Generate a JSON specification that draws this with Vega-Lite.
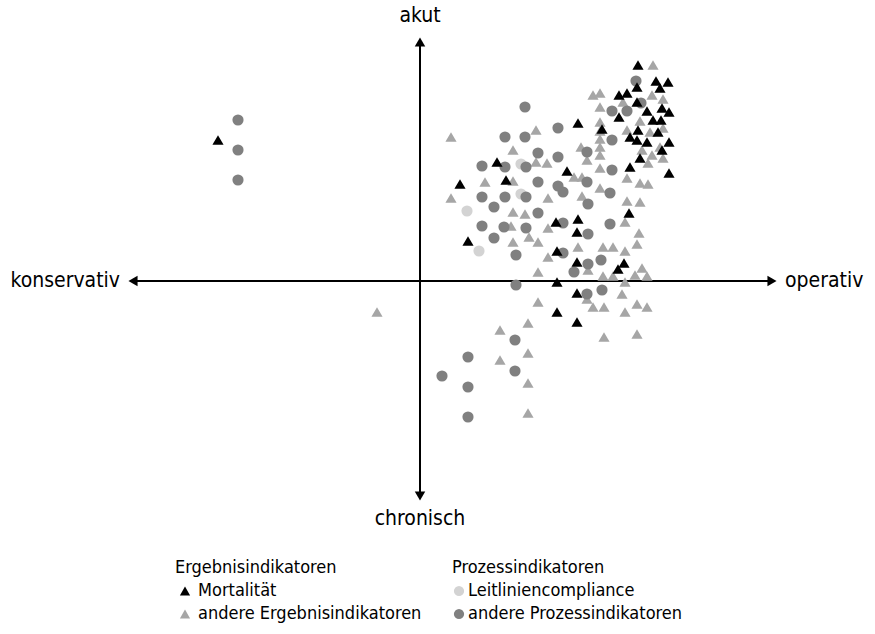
{
  "$schema": "https://vega.github.io/schema/vega-lite/v6.json",
  "width": 875,
  "height": 634,
  "autosize": "none",
  "padding": 0,
  "background": "white",
  "config": {"view": {"stroke": null}, "font": "DejaVu Sans Condensed"},
  "datasets": {
    "pts": [
      {"x":233,"y":216,"k":"E"},{"x":173,"y":186,"k":"E"},{"x":180,"y":188,"k":"E"},{"x":232,"y":186,"k":"E"},{"x":203,"y":179,"k":"E"},{"x":243,"y":182,"k":"E"},{"x":180,"y":174,"k":"E"},{"x":180,"y":159,"k":"E"},{"x":220,"y":160,"k":"E"},{"x":180,"y":150,"k":"E"},{"x":207,"y":151,"k":"E"},{"x":243,"y":153,"k":"E"},{"x":230,"y":149,"k":"E"},{"x":180,"y":142,"k":"E"},{"x":180,"y":134,"k":"E"},{"x":161,"y":134,"k":"E"},{"x":222,"y":131,"k":"E"},{"x":240,"y":134,"k":"E"},{"x":232,"y":126,"k":"E"},{"x":243,"y":123,"k":"E"},{"x":228,"y":118,"k":"E"},{"x":180,"y":126,"k":"E"},{"x":167,"y":121,"k":"E"},{"x":180,"y":113,"k":"E"},{"x":207,"y":103,"k":"E"},{"x":220,"y":98,"k":"E"},{"x":228,"y":97,"k":"E"},{"x":154,"y":104,"k":"E"},{"x":162,"y":104,"k":"E"},{"x":162,"y":85,"k":"E"},{"x":180,"y":93,"k":"E"},{"x":207,"y":80,"k":"E"},{"x":220,"y":79,"k":"E"},{"x":116,"y":151,"k":"E"},{"x":31,"y":144,"k":"E"},{"x":93,"y":131,"k":"E"},{"x":116,"y":119,"k":"E"},{"x":127,"y":118,"k":"E"},{"x":65,"y":99,"k":"E"},{"x":93,"y":100,"k":"E"},{"x":31,"y":83,"k":"E"},{"x":128,"y":83,"k":"E"},{"x":93,"y":69,"k":"E"},{"x":105,"y":67,"k":"E"},{"x":91,"y":55,"k":"E"},{"x":128,"y":53,"k":"E"},{"x":93,"y":39,"k":"E"},{"x":109,"y":44,"k":"E"},{"x":118,"y":39,"k":"E"},{"x":128,"y":24,"k":"E"},{"x":205,"y":59,"k":"E"},{"x":219,"y":48,"k":"E"},{"x":158,"y":34,"k":"E"},{"x":183,"y":34,"k":"E"},{"x":193,"y":34,"k":"E"},{"x":217,"y":37,"k":"E"},{"x":205,"y":30,"k":"E"},{"x":168,"y":11,"k":"E"},{"x":222,"y":13,"k":"E"},{"x":215,"y":6,"k":"E"},{"x":227,"y":5,"k":"E"},{"x":183,"y":5,"k":"E"},{"x":193,"y":5,"k":"E"},{"x":118,"y":9,"k":"E"},{"x":205,"y":-1,"k":"E"},{"x":167,"y":-18,"k":"E"},{"x":202,"y":-13,"k":"E"},{"x":118,"y":-21,"k":"E"},{"x":173,"y":-26,"k":"E"},{"x":184,"y":-26,"k":"E"},{"x":205,"y":-31,"k":"E"},{"x":217,"y":-23,"k":"E"},{"x":227,"y":-26,"k":"E"},{"x":108,"y":-42,"k":"E"},{"x":80,"y":-49,"k":"E"},{"x":184,"y":-56,"k":"E"},{"x":217,"y":-53,"k":"E"},{"x":108,"y":-72,"k":"E"},{"x":80,"y":-79,"k":"E"},{"x":108,"y":-102,"k":"E"},{"x":108,"y":-132,"k":"E"},{"x":-43,"y":-31,"k":"E"},
      {"x":101,"y":117,"k":"L"},{"x":47,"y":70,"k":"L"},{"x":59,"y":30,"k":"L"},{"x":101,"y":87,"k":"L"},
      {"x":216,"y":200,"k":"P"},{"x":221,"y":178,"k":"P"},{"x":192,"y":170,"k":"P"},{"x":207,"y":170,"k":"P"},{"x":192,"y":141,"k":"P"},{"x":167,"y":129,"k":"P"},{"x":192,"y":111,"k":"P"},{"x":167,"y":99,"k":"P"},{"x":190,"y":88,"k":"P"},{"x":168,"y":77,"k":"P"},{"x":105,"y":174,"k":"P"},{"x":138,"y":153,"k":"P"},{"x":85,"y":144,"k":"P"},{"x":105,"y":144,"k":"P"},{"x":118,"y":128,"k":"P"},{"x":138,"y":124,"k":"P"},{"x":106,"y":114,"k":"P"},{"x":62,"y":115,"k":"P"},{"x":85,"y":114,"k":"P"},{"x":118,"y":99,"k":"P"},{"x":138,"y":95,"k":"P"},{"x":143,"y":89,"k":"P"},{"x":62,"y":84,"k":"P"},{"x":85,"y":84,"k":"P"},{"x":106,"y":84,"k":"P"},{"x":74,"y":74,"k":"P"},{"x":118,"y":68,"k":"P"},{"x":143,"y":58,"k":"P"},{"x":62,"y":55,"k":"P"},{"x":84,"y":54,"k":"P"},{"x":106,"y":53,"k":"P"},{"x":74,"y":43,"k":"P"},{"x":96,"y":26,"k":"P"},{"x":143,"y":28,"k":"P"},{"x":190,"y":57,"k":"P"},{"x":168,"y":47,"k":"P"},{"x":181,"y":21,"k":"P"},{"x":168,"y":17,"k":"P"},{"x":154,"y":9,"k":"P"},{"x":96,"y":-4,"k":"P"},{"x":167,"y":-13,"k":"P"},{"x":182,"y":-9,"k":"P"},{"x":95,"y":-59,"k":"P"},{"x":95,"y":-90,"k":"P"},{"x":48,"y":-76,"k":"P"},{"x":22,"y":-95,"k":"P"},{"x":48,"y":-106,"k":"P"},{"x":48,"y":-136,"k":"P"},{"x":-182,"y":161,"k":"P"},{"x":-182,"y":131,"k":"P"},{"x":-182,"y":101,"k":"P"},
      {"x":218,"y":216,"k":"M"},{"x":217,"y":194,"k":"M"},{"x":236,"y":200,"k":"M"},{"x":248,"y":199,"k":"M"},{"x":199,"y":186,"k":"M"},{"x":207,"y":188,"k":"M"},{"x":240,"y":193,"k":"M"},{"x":217,"y":179,"k":"M"},{"x":227,"y":170,"k":"M"},{"x":242,"y":173,"k":"M"},{"x":249,"y":169,"k":"M"},{"x":199,"y":164,"k":"M"},{"x":233,"y":161,"k":"M"},{"x":241,"y":161,"k":"M"},{"x":158,"y":158,"k":"M"},{"x":182,"y":152,"k":"M"},{"x":218,"y":151,"k":"M"},{"x":210,"y":144,"k":"M"},{"x":217,"y":141,"k":"M"},{"x":227,"y":139,"k":"M"},{"x":238,"y":149,"k":"M"},{"x":249,"y":139,"k":"M"},{"x":242,"y":131,"k":"M"},{"x":220,"y":123,"k":"M"},{"x":210,"y":114,"k":"M"},{"x":249,"y":108,"k":"M"},{"x":77,"y":119,"k":"M"},{"x":147,"y":110,"k":"M"},{"x":40,"y":97,"k":"M"},{"x":86,"y":101,"k":"M"},{"x":136,"y":59,"k":"M"},{"x":158,"y":62,"k":"M"},{"x":157,"y":49,"k":"M"},{"x":48,"y":40,"k":"M"},{"x":137,"y":30,"k":"M"},{"x":209,"y":68,"k":"M"},{"x":204,"y":18,"k":"M"},{"x":198,"y":12,"k":"M"},{"x":157,"y":19,"k":"M"},{"x":137,"y":-1,"k":"M"},{"x":157,"y":-12,"k":"M"},{"x":137,"y":-31,"k":"M"},{"x":157,"y":-41,"k":"M"},{"x":-202,"y":141,"k":"M"}
    ],
    "axislines": [
      {"x":-288,"x2":353,"y":0,"y2":0},
      {"x":0,"x2":0,"y":-216,"y2":240}
    ],
    "heads": [
      {"x":-287,"y":0,"s":"triangle-left"},
      {"x":352,"y":0,"s":"triangle-right"},
      {"x":0,"y":239,"s":"triangle-up"},
      {"x":0,"y":-215,"s":"triangle-down"}
    ],
    "labc": [
      {"x":0,"y":265,"t":"akut"},
      {"x":0,"y":-238,"t":"chronisch"}
    ],
    "labl": [
      {"x":-300,"y":0,"t":"konservativ"}
    ],
    "labr": [
      {"x":365,"y":0,"t":"operativ"}
    ],
    "legtext": [
      {"x":-245,"y":-287,"t":"Ergebnisindikatoren"},
      {"x":-222,"y":-310,"t":"Mortalität"},
      {"x":-222,"y":-333,"t":"andere Ergebnisindikatoren"},
      {"x":32,"y":-287,"t":"Prozessindikatoren"},
      {"x":48,"y":-310,"t":"Leitliniencompliance"},
      {"x":48,"y":-333,"t":"andere Prozessindikatoren"}
    ],
    "legsym": [
      {"x":-235,"y":-310,"k":"M"},
      {"x":-235,"y":-333,"k":"E"},
      {"x":39,"y":-310,"k":"L"},
      {"x":39,"y":-333,"k":"P"}
    ]
  },
  "layer": [
    {
      "data": {"name": "axislines"},
      "mark": {"type": "rule", "color": "black", "strokeWidth": 2},
      "encoding": {
        "x": {"field": "x", "type": "quantitative", "scale": {"domain": [-420, 455], "nice": false, "zero": false}, "axis": null},
        "x2": {"field": "x2"},
        "y": {"field": "y", "type": "quantitative", "scale": {"domain": [-353, 281], "nice": false, "zero": false}, "axis": null},
        "y2": {"field": "y2"}
      }
    },
    {
      "data": {"name": "heads"},
      "mark": {"type": "point", "filled": true, "color": "black", "opacity": 1, "size": 110},
      "encoding": {
        "x": {"field": "x", "type": "quantitative"},
        "y": {"field": "y", "type": "quantitative"},
        "shape": {"field": "s", "type": "nominal", "scale": null}
      }
    },
    {
      "data": {"name": "pts"},
      "mark": {"type": "point", "filled": true, "opacity": 1},
      "encoding": {
        "x": {"field": "x", "type": "quantitative"},
        "y": {"field": "y", "type": "quantitative"},
        "color": {"field": "k", "type": "nominal", "scale": {"domain": ["M", "E", "L", "P"], "range": ["#000000", "#a6a6a6", "#d3d3d3", "#808080"]}, "legend": null},
        "shape": {"field": "k", "type": "nominal", "scale": {"domain": ["M", "E", "L", "P"], "range": ["triangle-up", "triangle-up", "circle", "circle"]}, "legend": null},
        "size": {"field": "k", "type": "nominal", "scale": {"domain": ["M", "E", "L", "P"], "range": [125, 125, 100, 100]}, "legend": null}
      }
    },
    {
      "data": {"name": "legsym"},
      "mark": {"type": "point", "filled": true, "opacity": 1},
      "encoding": {
        "x": {"field": "x", "type": "quantitative"},
        "y": {"field": "y", "type": "quantitative"},
        "color": {"field": "k", "type": "nominal", "legend": null},
        "shape": {"field": "k", "type": "nominal", "legend": null},
        "size": {"value": 105}
      }
    },
    {
      "data": {"name": "labc"},
      "mark": {"type": "text", "fontSize": 21, "baseline": "middle", "align": "center", "color": "black"},
      "encoding": {
        "x": {"field": "x", "type": "quantitative"},
        "y": {"field": "y", "type": "quantitative"},
        "text": {"field": "t"}
      }
    },
    {
      "data": {"name": "labl"},
      "mark": {"type": "text", "fontSize": 21, "baseline": "middle", "align": "right", "color": "black"},
      "encoding": {
        "x": {"field": "x", "type": "quantitative"},
        "y": {"field": "y", "type": "quantitative"},
        "text": {"field": "t"}
      }
    },
    {
      "data": {"name": "labr"},
      "mark": {"type": "text", "fontSize": 21, "baseline": "middle", "align": "left", "color": "black"},
      "encoding": {
        "x": {"field": "x", "type": "quantitative"},
        "y": {"field": "y", "type": "quantitative"},
        "text": {"field": "t"}
      }
    },
    {
      "data": {"name": "legtext"},
      "mark": {"type": "text", "fontSize": 18, "baseline": "middle", "align": "left", "color": "black"},
      "encoding": {
        "x": {"field": "x", "type": "quantitative"},
        "y": {"field": "y", "type": "quantitative"},
        "text": {"field": "t"}
      }
    }
  ]
}
